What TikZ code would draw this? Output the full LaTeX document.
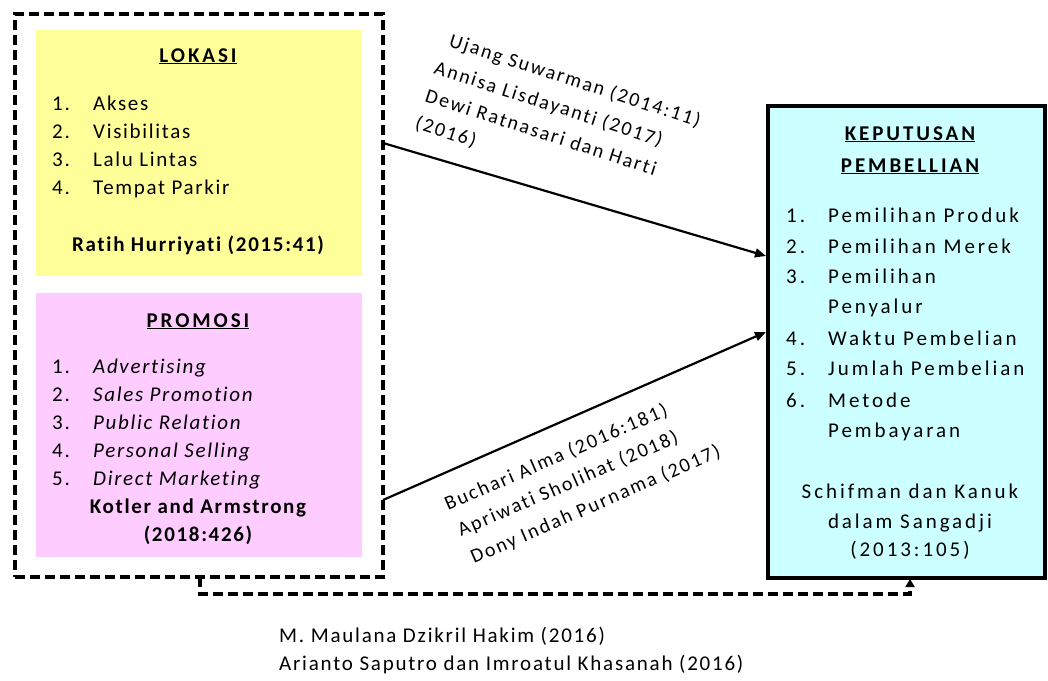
\documentclass[tikz,border=0pt]{standalone}
\usepackage{fontspec}
\setmainfont{Carlito}[Ligatures={NoCommon}]
\usetikzlibrary{arrows.meta}
\definecolor{ylw}{HTML}{FFFF99}
\definecolor{pnk}{HTML}{FFCCFF}
\definecolor{cyn}{HTML}{CCFFFF}
\tikzset{
  box/.style={inner sep=0pt, outer sep=0pt, anchor=north west},
  t/.style={font=\fontsize{21}{25}\selectfont\addfontfeature{LetterSpace=8}, inner sep=0pt, anchor=base west},
  ti/.style={font=\fontsize{21}{25}\selectfont\itshape\addfontfeature{LetterSpace=8}, inner sep=0pt, anchor=base west},
  tk/.style={font=\fontsize{21}{25}\selectfont\addfontfeature{LetterSpace=14}, inner sep=0pt, anchor=base west},
  tkc/.style={font=\fontsize{21}{25}\selectfont\addfontfeature{LetterSpace=14}, inner sep=0pt, anchor=base},
  tb/.style={font=\fontsize{21}{25}\selectfont\bfseries\addfontfeature{LetterSpace=8}, inner sep=0pt, anchor=base},
  th/.style={font=\fontsize{21}{25}\selectfont\bfseries\addfontfeature{LetterSpace=14}, inner sep=0pt, anchor=base},
  dashline/.style={line width=3.6pt, dash pattern=on 10pt off 5pt},
  arr/.style={line width=2.2pt, -{Triangle[length=11pt,width=9pt]}},
  lab/.style={font=\fontsize{20}{24}\selectfont\addfontfeature{LetterSpace=10}, inner sep=0pt, anchor=base west},
  bt/.style={font=\fontsize{21}{25}\selectfont\addfontfeature{LetterSpace=8.5}, inner sep=0pt, anchor=base west},
}
\begin{document}
\begin{tikzpicture}[x=1pt,y=-1pt]
\useasboundingbox (0,0) rectangle (1048,680);
% boxes
\node[box, fill=ylw, minimum width=326pt, minimum height=246pt] (lok) at (36,30) {};
\node[box, fill=pnk, minimum width=326pt, minimum height=264pt] (pro) at (36,293) {};
\node[box, draw, dashline, minimum width=368pt, minimum height=563pt] (outer) at (15,14) {};
\node[box, fill=cyn, draw, line width=3.2pt, minimum width=277pt, minimum height=472pt] (kep) at (768,106) {};
% LOKASI
\node[th] (lokt) at (198,62) {\underline{LOKASI}};
\node[t] (l1n) at (52,110) {1.}; \node[t] (l1) at (93,110) {Akses};
\node[t] (l2n) at (52,138) {2.}; \node[t] (l2) at (93,138) {Visibilitas};
\node[t] (l3n) at (52,166) {3.}; \node[t] (l3) at (93,166) {Lalu Lintas};
\node[t] (l4n) at (52,194) {4.}; \node[t] (l4) at (93,194) {Tempat Parkir};
\node[tb] (lokr) at (198,251) {Ratih Hurriyati (2015:41)};
% PROMOSI
\node[th] (prot) at (198,327) {\underline{PROMOSI}};
\node[t] (p1n) at (52,373) {1.}; \node[ti] (p1) at (93,373) {Advertising};
\node[t] (p2n) at (52,401) {2.}; \node[ti] (p2) at (93,401) {Sales Promotion};
\node[t] (p3n) at (52,429) {3.}; \node[ti] (p3) at (93,429) {Public Relation};
\node[t] (p4n) at (52,457) {4.}; \node[ti] (p4) at (93,457) {Personal Selling};
\node[t] (p5n) at (52,485) {5.}; \node[ti] (p5) at (93,485) {Direct Marketing};
\node[tb] (pror1) at (198,513) {Kotler and Armstrong};
\node[tb] (pror2) at (198,541) {(2018:426)};
% KEPUTUSAN
\node[th] (kt1) at (910,140) {\underline{KEPUTUSAN}};
\node[th] (kt2) at (910,172) {\underline{PEMBELLIAN}};
\node[tk] (k1n) at (786,222) {1.}; \node[tk] (k1) at (828,222) {Pemilihan Produk};
\node[tk] (k2n) at (786,253) {2.}; \node[tk] (k2) at (828,253) {Pemilihan Merek};
\node[tk] (k3n) at (786,283) {3.}; \node[tk] (k3) at (828,283) {Pemilihan};
\node[tk] (k3b) at (828,313) {Penyalur};
\node[tk] (k4n) at (786,345) {4.}; \node[tk] (k4) at (828,345) {Waktu Pembelian};
\node[tk] (k5n) at (786,375) {5.}; \node[tk] (k5) at (828,375) {Jumlah Pembelian};
\node[tk] (k6n) at (786,407) {6.}; \node[tk] (k6) at (828,407) {Metode};
\node[tk] (k6b) at (828,437) {Pembayaran};
\node[tkc] (kr1) at (910,498) {Schifman dan Kanuk};
\node[tkc] (kr2) at (910,528) {dalam Sangadji};
\node[tkc] (kr3) at (910,556) {(2013:105)};
% arrows
\coordinate (a1s) at (383,143);
\coordinate (a1e) at (766,256);
\coordinate (a2s) at (383,500);
\coordinate (a2e) at (766,332);
\draw[arr] (a1s) -- (a1e);
\draw[arr] (a2s) -- (a2e);
\coordinate (fbs) at (200,577);
\coordinate (fbe) at (910,579);
\draw[dashline, -{Triangle[length=8pt,width=9pt]}] (fbs) -- (200,594) -| (fbe);
% labels
\node[lab, rotate=-18] (u1) at (448,46) {Ujang Suwarman (2014:11)};
\node[lab, rotate=-18] (u2) at (433,73) {Annisa Lisdayanti (2017)};
\node[lab, rotate=-18] (u3) at (424,101) {Dewi Ratnasari dan Harti};
\node[lab, rotate=-18] (u4) at (414,128) {(2016)};
\node[lab, rotate=23.5] (b1) at (448,511) {Buchari Alma (2016:181)};
\node[lab, rotate=23.5] (b2) at (461,537) {Apriwati Sholihat (2018)};
\node[lab, rotate=23.5] (b3) at (474,564) {Dony Indah Purnama (2017)};
\node[bt] (m1) at (279,642) {M. Maulana Dzikril Hakim (2016)};
\node[bt] (m2) at (279,670) {Arianto Saputro dan Imroatul Khasanah (2016)};
\end{tikzpicture}
\end{document}
